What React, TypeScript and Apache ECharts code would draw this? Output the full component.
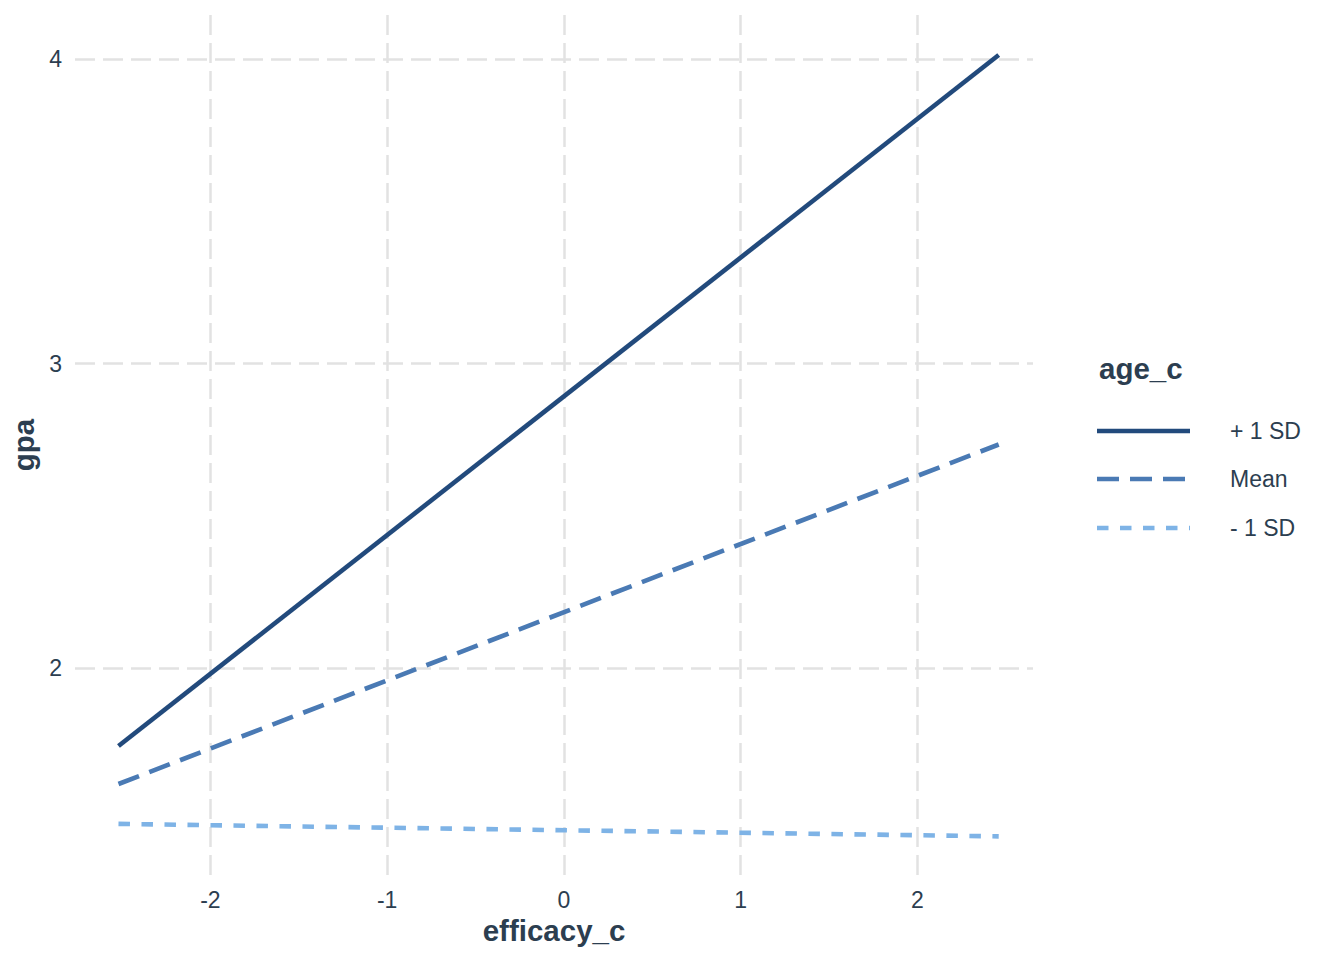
import React, { useEffect, useRef } from "react";
import * as echarts from "echarts";

// ---- data ----
const xEnds = [-2.52, 2.46];
const seriesNames = ["+ 1 SD", "Mean", "- 1 SD"];
const plusSD = [1.744, 4.013];
const meanVals = [1.619, 2.734];
const minusSD = [1.488, 1.447];
const xTicks = [-2, -1, 0, 1, 2];
const yTicks = [2, 3, 4];
const xTitle = "efficacy_c";
const yTitle = "gpa";
const legendTitle = "age_c";

const colors = ["#224A7C", "#4A7AB4", "#7EB3E6"];
const dashes: any[] = ["solid", [22, 11], [11.5, 11.5]];
const textColor = "#2C3E50";
const font = "'Liberation Sans', Arial, Helvetica, sans-serif";

export default function App() {
  const ref = useRef<HTMLDivElement>(null);
  useEffect(() => {
    if (!ref.current) return;
    const chart = echarts.init(ref.current, null, { renderer: "svg" });
    const valuesList = [plusSD, meanVals, minusSD];
    const series: any[] = valuesList.map((vals, i) => ({
      name: seriesNames[i],
      type: "line",
      data: xEnds.map((x, j) => [x, vals[j]]),
      symbol: "none",
      showSymbol: false,
      z: 3,
      lineStyle: { color: colors[i], width: 4.6, type: dashes[i], cap: "butt" },
    }));
    series.unshift({
      name: "__grid",
      type: "line",
      data: [],
      z: 1,
      markLine: {
        silent: true,
        z: 1,
        symbol: ["none", "none"],
        label: { show: false },
        lineStyle: { color: "#E2E2E2", width: 2.5, type: [20, 8] },
        emphasis: { disabled: true },
        data: [
          ...xTicks.map((v) => ({ xAxis: v })),
          ...yTicks.map((v) => ({ yAxis: v })),
        ],
      },
    });

    const legendYs = [431, 479, 528];
    const graphic: any[] = [
      {
        type: "text",
        x: 1099,
        y: 368,
        style: {
          text: legendTitle,
          fontSize: 29.5,
          fontWeight: "bold",
          fontFamily: font,
          fill: textColor,
          align: "left",
          verticalAlign: "middle",
        },
      },
    ];
    seriesNames.forEach((n, i) => {
      graphic.push({
        type: "line",
        shape: { x1: 1097, y1: legendYs[i], x2: 1190, y2: legendYs[i] },
        style: {
          stroke: colors[i],
          lineWidth: 4.6,
          lineDash: i === 0 ? null : dashes[i],
        },
      });
      graphic.push({
        type: "text",
        x: 1230,
        y: legendYs[i],
        style: {
          text: n,
          fontSize: 23,
          fontFamily: font,
          fill: textColor,
          align: "left",
          verticalAlign: "middle",
        },
      });
    });

    chart.setOption({
      animation: false,
      backgroundColor: "#FFFFFF",
      grid: { left: 75, right: 311, top: 15, bottom: 85, containLabel: false },
      xAxis: {
        type: "value",
        min: -2.766,
        max: 2.654,
        axisLine: { show: false },
        axisTick: { show: false },
        splitLine: { show: false },
        axisLabel: {
          customValues: xTicks,
          fontSize: 23,
          color: textColor,
          fontFamily: font,
          margin: 13,
        },
        name: xTitle,
        nameLocation: "middle",
        nameGap: 39,
        nameTextStyle: { fontSize: 29.5, fontWeight: "bold", color: textColor, fontFamily: font },
      },
      yAxis: {
        type: "value",
        min: 1.3202,
        max: 4.1445,
        axisLine: { show: false },
        axisTick: { show: false },
        splitLine: { show: false },
        axisLabel: {
          customValues: yTicks,
          fontSize: 23,
          color: textColor,
          fontFamily: font,
          margin: 13,
        },
        name: yTitle,
        nameLocation: "middle",
        nameRotate: 90,
        nameGap: 34,
        nameTextStyle: { fontSize: 29.5, fontWeight: "bold", color: textColor, fontFamily: font },
      },
      graphic,
      series,
    });
    return () => chart.dispose();
  }, []);
  return (
    <div
      ref={ref}
      style={{ position: "fixed", left: 0, top: 0, width: 1344, height: 960, background: "#fff" }}
    />
  );
}
